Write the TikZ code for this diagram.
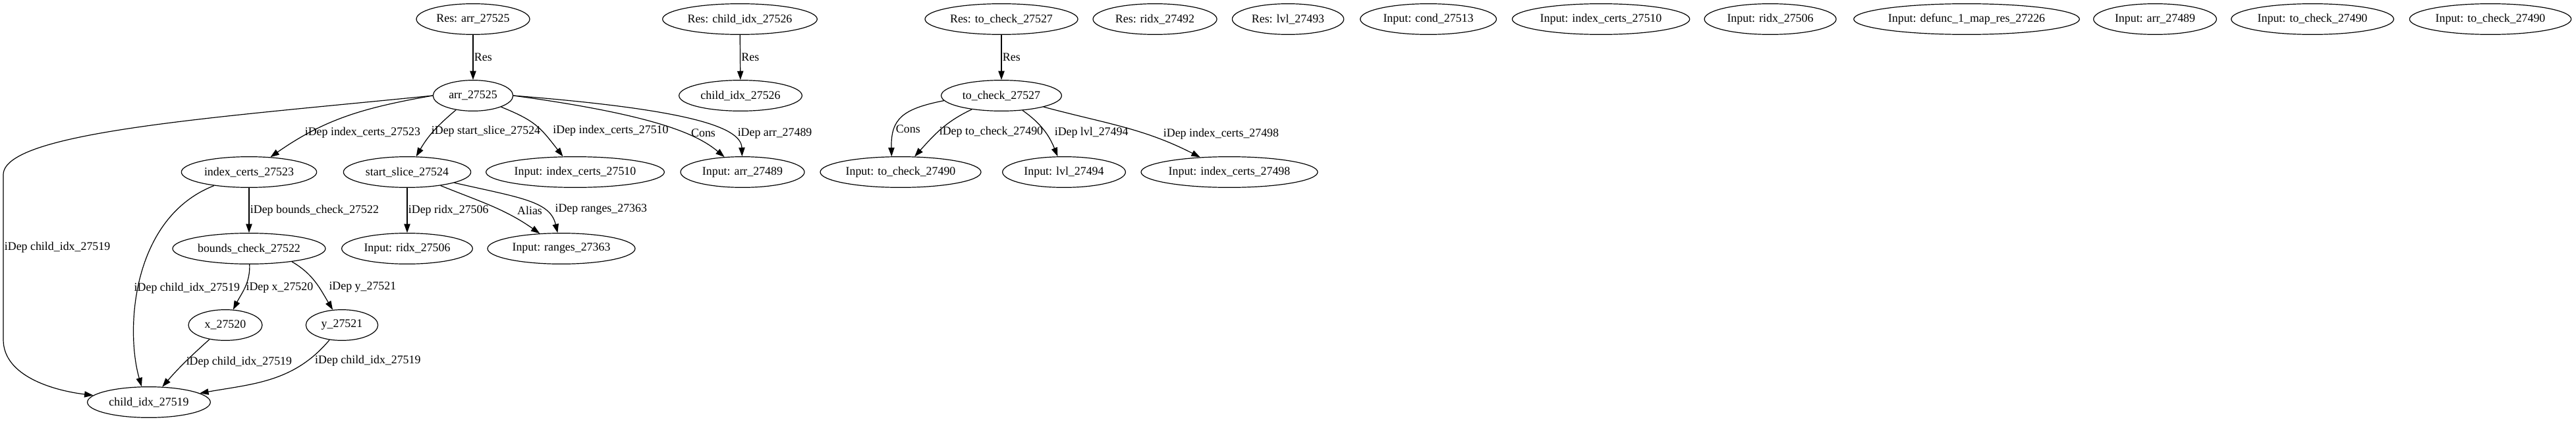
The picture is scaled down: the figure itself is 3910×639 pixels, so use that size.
\documentclass[tikz,border=0pt]{standalone}
\usepackage{fontspec}
\setmainfont{Liberation Serif}
\usetikzlibrary{shapes.geometric,arrows.meta}

\begin{document}
\begin{tikzpicture}[x=0.75pt, y=0.75pt,
    vnode/.style={draw, ellipse, line width=0.9pt, inner sep=0pt, minimum height=35pt, font=\fontsize{13.4}{16}\selectfont},
    dep/.style={-{Triangle[length=10pt,width=7pt]}, line width=0.9pt},
    lbl/.style={anchor=west, inner sep=1pt, font=\fontsize{13.4}{16}\selectfont}]
    \useasboundingbox (0,0) rectangle (3910,-639);
    % results and lone inputs
    \node[vnode, minimum width=129pt] (resArr) at (718,-29) {Res: arr\_27525};
    \node[vnode, minimum width=176pt] (resChild) at (1123,-29) {Res: child\_idx\_27526};
    \node[vnode, minimum width=174pt] (resCheck) at (1520,-29) {Res: to\_check\_27527};
    \node[vnode, minimum width=141pt] (resRidx) at (1753,-29) {Res: ridx\_27492};
    \node[vnode, minimum width=127pt] (resLvl) at (1955,-29) {Res: lvl\_27493};
    \node[vnode, minimum width=155pt] (inCond) at (2168,-29) {Input: cond\_27513};
    \node[vnode, minimum width=202pt] (inCertsTop) at (2430,-29) {Input: index\_certs\_27510};
    \node[vnode, minimum width=150pt] (inRidxTop) at (2687,-29) {Input: ridx\_27506};
    \node[vnode, minimum width=257pt] (inDefunc) at (2985,-29) {Input: defunc\_1\_map\_res\_27226};
    \node[vnode, minimum width=140pt] (inArrTop) at (3271,-29) {Input: arr\_27489};
    \node[vnode, minimum width=185pt] (inCheckTopA) at (3510,-29) {Input: to\_check\_27490};
    \node[vnode, minimum width=184pt] (inCheckTopB) at (3780,-29) {Input: to\_check\_27490};
    % second row
    \node[vnode, minimum width=91pt] (arr) at (718,-145) {arr\_27525};
    \node[vnode, minimum width=140pt] (child) at (1124,-145) {child\_idx\_27526};
    \node[vnode, minimum width=137pt] (check) at (1520,-145) {to\_check\_27527};
    % third row
    \node[vnode, minimum width=154pt] (certs) at (378,-261) {index\_certs\_27523};
    \node[vnode, minimum width=145pt] (slice) at (618,-261) {start\_slice\_27524};
    \node[vnode, minimum width=203pt] (inCerts) at (873,-261) {Input: index\_certs\_27510};
    \node[vnode, minimum width=141pt] (inArr) at (1127,-261) {Input: arr\_27489};
    \node[vnode, minimum width=183pt] (inCheck) at (1367,-261) {Input: to\_check\_27490};
    \node[vnode, minimum width=140pt] (inLvl) at (1615,-261) {Input: lvl\_27494};
    \node[vnode, minimum width=201pt] (inCerts98) at (1866,-261) {Input: index\_certs\_27498};
    % lower rows
    \node[vnode, minimum width=174pt] (bounds) at (378,-377) {bounds\_check\_27522};
    \node[vnode, minimum width=149pt] (inRidx) at (618,-377) {Input: ridx\_27506};
    \node[vnode, minimum width=168pt] (inRanges) at (852,-377) {Input: ranges\_27363};
    \node[vnode, minimum width=84pt] (xnode) at (342,-493) {x\_27520};
    \node[vnode, minimum width=82pt] (ynode) at (519,-493) {y\_27521};
    \node[vnode, minimum width=140pt] (childIdx) at (226,-610) {child\_idx\_27519};

    \draw[dep] (resArr) -- node[lbl]{Res} (arr);
    \draw[dep] (resChild) -- node[lbl]{Res} (child);
    \draw[dep] (resCheck) -- node[lbl]{Res} (check);

    % arr_27525
    \coordinate (bendTop) at (5,-265);
    \coordinate (bendLow) at (5,-515);
    \draw[dep] (arr.west) .. controls (330,-178) and (5,-200) .. (bendTop) -- (bendLow) node[lbl,pos=0.44]{iDep child\_idx\_27519}
        .. controls (5,-570) and (80,-592) .. (childIdx);
    \draw[dep] (arr.west) to[out=190,in=35] node[lbl,pos=0.75,xshift=-7pt]{iDep index\_certs\_27523} (certs);
    \draw[dep] (arr) to[out=220,in=60] node[lbl,xshift=-4pt]{iDep start\_slice\_27524} (slice);
    \draw[dep] (arr) to[out=-22,in=128,looseness=1.2] node[lbl,pos=0.6,xshift=12pt]{iDep index\_certs\_27510} (inCerts);
    \draw[dep] (arr.east) .. controls (1000,-175) and (1060,-205) .. (inArr) node[lbl,pos=0.62,xshift=7pt]{Cons};
    \draw[dep] (arr.east) .. controls (1030,-165) and (1125,-190) .. (inArr) node[lbl,pos=0.72,xshift=12pt]{iDep arr\_27489};

    % to_check_27527
    \draw[dep] (check.185) .. controls (1370,-165) and (1352,-180) .. (inCheck.120) node[lbl,pos=0.7]{Cons};
    \draw[dep] (check) to[out=205,in=48] node[lbl,pos=0.55]{iDep to\_check\_27490} (inCheck);
    \draw[dep] (check) to[out=-35,in=112] node[lbl,pos=0.55,xshift=9pt]{iDep lvl\_27494} (inLvl);
    \draw[dep] (check) to[out=-15,in=153] node[lbl,pos=0.65,xshift=19pt]{iDep index\_certs\_27498} (inCerts98);

    % lower part
    \draw[dep] (certs) -- node[lbl]{iDep bounds\_check\_27522} (bounds);
    \draw[dep] (slice) -- node[lbl]{iDep ridx\_27506} (inRidx);
    \draw[dep] (slice) to[out=-22,in=145] node[lbl,pos=0.6,xshift=17pt]{Alias} (inRanges);
    \draw[dep] (slice) .. controls (790,-300) and (835,-305) .. (inRanges) node[lbl,pos=0.67,xshift=13pt]{iDep ranges\_27363};
    \draw[dep] (certs) .. controls (200,-330) and (190,-500) .. (childIdx.115) node[lbl,pos=0.55,xshift=-6pt]{iDep child\_idx\_27519};
    \draw[dep] (bounds) to[out=-88,in=63] node[lbl]{iDep x\_27520} (xnode);
    \draw[dep] (bounds.-17) to[out=-30,in=121] node[lbl,pos=0.6,xshift=10pt]{iDep y\_27521} (ynode);
    \draw[dep] (xnode) to[out=222,in=49] node[lbl]{iDep child\_idx\_27519} (childIdx);
    \draw[dep] (ynode) to[out=230,in=10] node[lbl,pos=0.2,xshift=7pt]{iDep child\_idx\_27519} (childIdx);
\end{tikzpicture}
\end{document}
